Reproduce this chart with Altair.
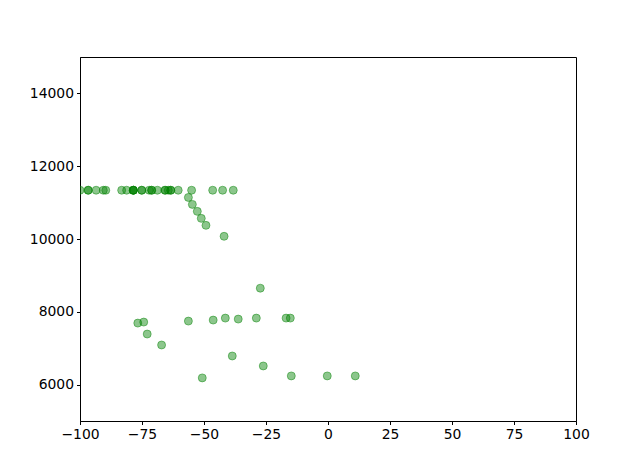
import altair as alt
import pandas as pd

x_vals = [-100, -96.7, -96.7, -93.5, -90.6, -89.6, -83.2, -81.2, -78.5, -78.5, -78.5, -78.5,
          -75.1, -75.1, -72.1, -71.1, -71.1, -68.8, -65.7, -65.7, -64.4, -63.4, -63.4, -60.4,
          -55.0, -46.5, -42.5, -38.2,
          -56.3, -54.7, -52.7, -51.1, -49.2, -41.9,
          -76.7, -74.3, -72.9, -67.1, -56.3, -50.7, -46.3, -41.4, -36.2, -38.6,
          -28.9, -27.3, -26.1, -16.9, -15.2, -14.8, -0.3, 11.0]
y_vals = [11340] * 28 + [11142, 10951, 10759, 10567, 10375, 10074,
          7690, 7718, 7389, 7088, 7745, 6184, 7773, 7827, 7800, 6786,
          7827, 8649, 6512, 7827, 7827, 6238, 6238, 6238]

x_ticks = [-100, -75, -50, -25, 0, 25, 50, 75, 100]
y_ticks = [6000, 8000, 10000, 12000, 14000]

df = pd.DataFrame({"x": x_vals, "y": y_vals})

axis_common = dict(grid=False, domainColor="black", tickColor="black", tickSize=3.5,
                   labelFont="DejaVu Sans", labelFontSize=13.9, labelColor="black",
                   title=None, labelPadding=3, labelFlush=False, labelOverlap=False,
                   format="d")

chart = alt.Chart(df).mark_point(
    shape="circle", filled=True, size=64, fill="#008000", fillOpacity=0.45,
    stroke="#008000", strokeOpacity=0.45, strokeWidth=1, clip=True
).encode(
    x=alt.X("x:Q", scale=alt.Scale(domain=[-100, 100], nice=False, zero=False),
            axis=alt.Axis(values=x_ticks, **axis_common)),
    y=alt.Y("y:Q", scale=alt.Scale(domain=[5000, 15000], nice=False, zero=False),
            axis=alt.Axis(values=y_ticks, **axis_common)),
).properties(
    width=496, height=364,
    autosize=alt.AutoSizeParams(type="none"),
    padding={"left": 72, "top": 49, "right": 56, "bottom": 44},
).configure_view(stroke="black", strokeWidth=1)

chart.save("out.html", embed_options={"renderer": "svg", "actions": False})
